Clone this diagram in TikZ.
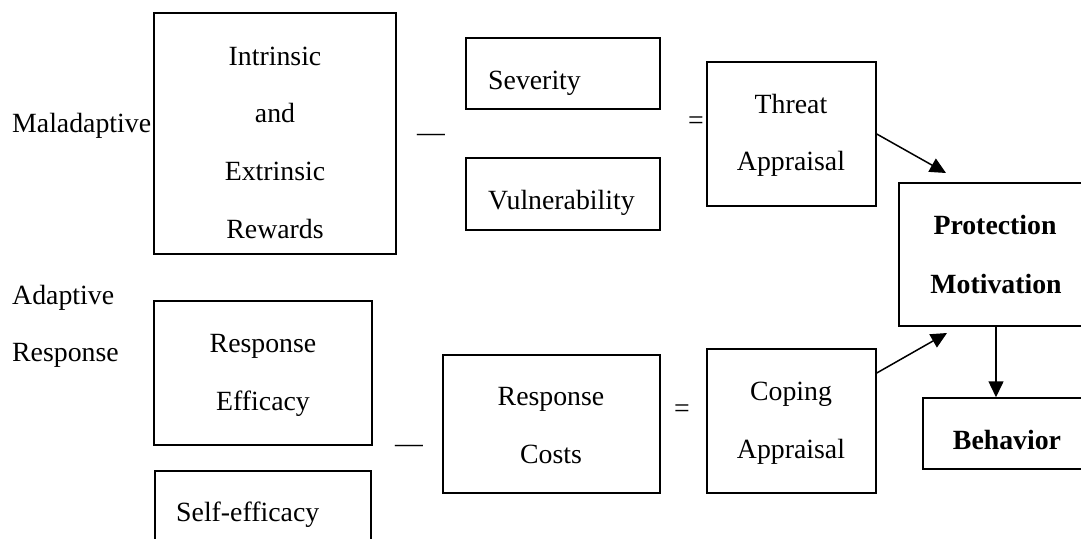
\documentclass[tikz,border=0pt]{standalone}
\usepackage{fontspec}
\setmainfont{Liberation Serif}
\usetikzlibrary{arrows.meta}
\begin{document}
\begin{tikzpicture}[x=1pt,y=-1pt,
  box/.style={draw, line width=1.5pt, rectangle, inner sep=0pt},
  txt/.style={font=\fontsize{27.8}{33}\selectfont, inner sep=0pt, anchor=base},
  txtl/.style={txt, anchor=base west},
  btxt/.style={txt, font=\fontsize{27.8}{33}\selectfont\bfseries},
  arr/.style={line width=1.5pt, -{Triangle[length=16pt,width=15pt]}}]
\useasboundingbox (0,0) rectangle (1081,538);
\clip (0,0) rectangle (1081,538);

% boxes
\node[box, minimum width=242pt, minimum height=241pt] (ier) at (275,133.5) {};
\node[box, minimum width=194pt, minimum height=71pt] (sev) at (563,73.5) {};
\node[box, minimum width=194pt, minimum height=72pt] (vul) at (563,194) {};
\node[box, minimum width=169pt, minimum height=144pt] (threat) at (791.5,134) {};
\node[box, minimum width=194pt, minimum height=143pt] (prot) at (996,254.5) {};
\node[box, minimum width=168pt, minimum height=71pt] (beh) at (1007,433.5) {};
\node[box, minimum width=218pt, minimum height=144pt] (re) at (263,373) {};
\node[box, minimum width=216pt, minimum height=128pt] (self) at (263,535) {};
\node[box, minimum width=217pt, minimum height=138pt] (rc) at (551.5,424) {};
\node[box, minimum width=169pt, minimum height=144pt] (cop) at (791.5,421) {};

% texts
\node[txtl] (mal) at (12,132) {Maladaptive};
\node[txt] (ier1) at (275,65) {Intrinsic};
\node[txt] (ier2) at (275,122) {and};
\node[txt] (ier3) at (275,180) {Extrinsic};
\node[txt] (ier4) at (275,238) {Rewards};
\node[txtl] (dash1) at (417,141) {—};
\node[txtl] (sevt) at (488,89) {Severity};
\node[txtl] (vult) at (488,209) {Vulnerability};
\node[txtl] (eq1) at (688,129) {=};
\node[txt] (thr1) at (791,113) {Threat};
\node[txt] (thr2) at (791,170) {Appraisal};
\node[btxt] (pro1) at (995,234) {Protection};
\node[btxt] (pro2) at (996,293) {Motivation};
\node[btxt] (beht) at (1007,449) {Behavior};
\node[txtl] (ad1) at (12,304) {Adaptive};
\node[txtl] (ad2) at (12,361) {Response};
\node[txt] (re1) at (263,352) {Response};
\node[txt] (re2) at (263,410) {Efficacy};
\node[txtl] (dash2) at (395,452) {—};
\node[txt] (rc1) at (551,405) {Response};
\node[txt] (rc2) at (551,463) {Costs};
\node[txtl] (eq2) at (674,417) {=};
\node[txt] (cop1) at (791,400) {Coping};
\node[txt] (cop2) at (791,458) {Appraisal};
\node[txtl] (selft) at (176,521) {Self-efficacy};

% arrows
\coordinate (t1) at (946,173);
\coordinate (t2) at (947,333);
\draw[arr] (threat.east) -- (t1);
\draw[arr] ([yshift=48pt]cop.east) -- (t2);
\draw[arr] (prot.south) -- (prot.south |- beh.north);
\end{tikzpicture}
\end{document}
